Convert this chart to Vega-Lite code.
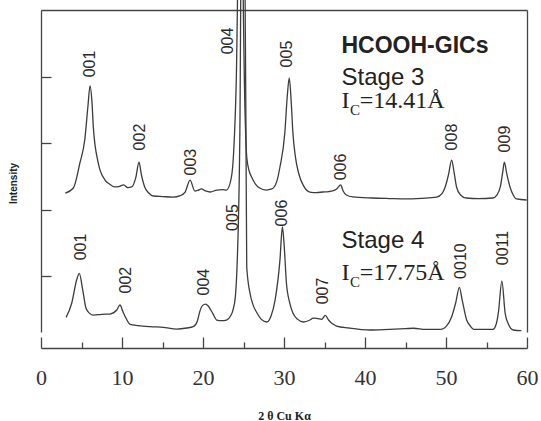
{
  "$schema": "https://vega.github.io/schema/vega-lite/v6.json",
  "width": 486,
  "height": 322,
  "autosize": {"type": "none"},
  "padding": {"left": 41, "top": 10, "right": 14, "bottom": 89},
  "background": "white",
  "config": {"view": {"stroke": null}},
  "datasets": {
    "trace": [
      {"s":"3","t":3.0,"i":112.4},{"s":"3","t":4.0,"i":116.2},{"s":"3","t":4.8,"i":135},{"s":"3","t":5.4,"i":152.3},{"s":"3","t":5.8,"i":178},{"s":"3","t":6.05,"i":192.9},{"s":"3","t":6.3,"i":180},{"s":"3","t":6.46,"i":162},{"s":"3","t":7.07,"i":135},{"s":"3","t":7.9,"i":122.2},{"s":"3","t":8.5,"i":119},{"s":"3","t":9.1,"i":117},{"s":"3","t":9.7,"i":117.5},{"s":"3","t":10.2,"i":118.5},{"s":"3","t":10.7,"i":116.5},{"s":"3","t":11.2,"i":117},{"s":"3","t":11.7,"i":124},{"s":"3","t":12.1,"i":135.7},{"s":"3","t":12.4,"i":126},{"s":"3","t":12.8,"i":117},{"s":"3","t":13.3,"i":112.5},{"s":"3","t":13.9,"i":110.2},{"s":"3","t":15.0,"i":109.8},{"s":"3","t":16.3,"i":109.4},{"s":"3","t":17.2,"i":110.5},{"s":"3","t":17.8,"i":113.2},{"s":"3","t":18.4,"i":122.2},{"s":"3","t":19.0,"i":113.9},{"s":"3","t":19.4,"i":114.5},{"s":"3","t":19.8,"i":115.5},{"s":"3","t":20.3,"i":114},{"s":"3","t":20.9,"i":113.2},{"s":"3","t":21.7,"i":114.7},{"s":"3","t":22.4,"i":115},{"s":"3","t":22.9,"i":114.7},{"s":"3","t":23.5,"i":124},{"s":"3","t":23.8,"i":145},{"s":"3","t":24.1,"i":195},{"s":"3","t":24.6,"i":380},{"s":"3","t":25.2,"i":170},{"s":"3","t":25.4,"i":139.5},{"s":"3","t":25.7,"i":129},{"s":"3","t":26.0,"i":124.5},{"s":"3","t":26.5,"i":119},{"s":"3","t":27.0,"i":116.2},{"s":"3","t":27.8,"i":114.7},{"s":"3","t":28.5,"i":115.5},{"s":"3","t":29.1,"i":121},{"s":"3","t":29.5,"i":132},{"s":"3","t":30.1,"i":157.5},{"s":"3","t":30.4,"i":185},{"s":"3","t":30.65,"i":198.9},{"s":"3","t":30.9,"i":180},{"s":"3","t":31.1,"i":157.5},{"s":"3","t":31.4,"i":140},{"s":"3","t":31.8,"i":127.5},{"s":"3","t":32.4,"i":118},{"s":"3","t":33.2,"i":113.2},{"s":"3","t":34.0,"i":112.8},{"s":"3","t":34.8,"i":113.2},{"s":"3","t":35.5,"i":113.5},{"s":"3","t":36.0,"i":114},{"s":"3","t":36.5,"i":115.5},{"s":"3","t":37.0,"i":118.5},{"s":"3","t":37.3,"i":114},{"s":"3","t":37.7,"i":111},{"s":"3","t":38.5,"i":109.5},{"s":"3","t":40.9,"i":108.7},{"s":"3","t":43.0,"i":108.3},{"s":"3","t":45.0,"i":108},{"s":"3","t":47.0,"i":108.5},{"s":"3","t":48.85,"i":109.4},{"s":"3","t":49.5,"i":112},{"s":"3","t":49.9,"i":117},{"s":"3","t":50.3,"i":126},{"s":"3","t":50.7,"i":137.2},{"s":"3","t":51.0,"i":128},{"s":"3","t":51.3,"i":117},{"s":"3","t":51.8,"i":111},{"s":"3","t":52.5,"i":108.7},{"s":"3","t":54.0,"i":108.3},{"s":"3","t":55.8,"i":108.7},{"s":"3","t":56.3,"i":111},{"s":"3","t":56.7,"i":117},{"s":"3","t":57.0,"i":128},{"s":"3","t":57.2,"i":135.7},{"s":"3","t":57.5,"i":127},{"s":"3","t":57.9,"i":117},{"s":"3","t":58.3,"i":111},{"s":"3","t":58.7,"i":108},{"s":"3","t":59.96,"i":107.2},
      {"s":"4","t":3.1,"i":19},{"s":"4","t":3.8,"i":29.8},{"s":"4","t":4.4,"i":47.1},{"s":"4","t":4.73,"i":52.1},{"s":"4","t":5.15,"i":39.6},{"s":"4","t":5.56,"i":25.8},{"s":"4","t":6.0,"i":22},{"s":"4","t":6.46,"i":20.7},{"s":"4","t":7.5,"i":21.3},{"s":"4","t":8.5,"i":21.5},{"s":"4","t":9.35,"i":24.5},{"s":"4","t":9.75,"i":28.3},{"s":"4","t":10.1,"i":23.5},{"s":"4","t":10.4,"i":19.5},{"s":"4","t":11.0,"i":13.8},{"s":"4","t":12.0,"i":12.8},{"s":"4","t":13.5,"i":12},{"s":"4","t":15.1,"i":11.5},{"s":"4","t":16.75,"i":10.2},{"s":"4","t":18.0,"i":11},{"s":"4","t":18.8,"i":12},{"s":"4","t":19.3,"i":16},{"s":"4","t":19.6,"i":23.3},{"s":"4","t":19.96,"i":28},{"s":"4","t":20.3,"i":29},{"s":"4","t":20.65,"i":27.5},{"s":"4","t":21.2,"i":22},{"s":"4","t":21.7,"i":17},{"s":"4","t":22.3,"i":16.5},{"s":"4","t":22.9,"i":17},{"s":"4","t":23.4,"i":20},{"s":"4","t":23.7,"i":24.5},{"s":"4","t":24.0,"i":35},{"s":"4","t":24.2,"i":56.8},{"s":"4","t":24.55,"i":157.5},{"s":"4","t":24.85,"i":420},{"s":"4","t":25.3,"i":165},{"s":"4","t":25.4,"i":56.8},{"s":"4","t":25.8,"i":37.3},{"s":"4","t":26.2,"i":28},{"s":"4","t":26.6,"i":23},{"s":"4","t":27.2,"i":17.5},{"s":"4","t":27.9,"i":15.5},{"s":"4","t":28.4,"i":20},{"s":"4","t":28.9,"i":32},{"s":"4","t":29.5,"i":62},{"s":"4","t":29.8,"i":86.9},{"s":"4","t":30.0,"i":75},{"s":"4","t":30.3,"i":44.8},{"s":"4","t":30.7,"i":30},{"s":"4","t":31.1,"i":22.2},{"s":"4","t":31.7,"i":17.5},{"s":"4","t":32.4,"i":15.5},{"s":"4","t":33.2,"i":17},{"s":"4","t":33.6,"i":18.5},{"s":"4","t":34.2,"i":18},{"s":"4","t":34.65,"i":17.5},{"s":"4","t":35.1,"i":20.5},{"s":"4","t":35.5,"i":17},{"s":"4","t":35.9,"i":14.5},{"s":"4","t":36.5,"i":12.5},{"s":"4","t":38.0,"i":11},{"s":"4","t":40.6,"i":9.5},{"s":"4","t":43.0,"i":10},{"s":"4","t":45.0,"i":10.5},{"s":"4","t":46.0,"i":10.8},{"s":"4","t":47.5,"i":10},{"s":"4","t":49.4,"i":10},{"s":"4","t":50.0,"i":12},{"s":"4","t":50.7,"i":19.5},{"s":"4","t":51.2,"i":30},{"s":"4","t":51.65,"i":41.6},{"s":"4","t":52.0,"i":32},{"s":"4","t":52.55,"i":17},{"s":"4","t":53.0,"i":12.5},{"s":"4","t":53.4,"i":10},{"s":"4","t":55.8,"i":10},{"s":"4","t":56.2,"i":14},{"s":"4","t":56.46,"i":22.2},{"s":"4","t":56.9,"i":46.3},{"s":"4","t":57.3,"i":22.2},{"s":"4","t":57.7,"i":14},{"s":"4","t":58.3,"i":9.5},{"s":"4","t":59.3,"i":9}
    ],
    "peaks": [
      {"t":6.05,"i":209.4,"label":"001"},{"t":12.2,"i":154.5,"label":"002"},{"t":18.5,"i":135.7,"label":"003"},{"t":23.1,"i":226.7,"label":"004"},{"t":30.4,"i":216.9,"label":"005"},{"t":37.0,"i":132,"label":"006"},{"t":50.8,"i":154.5,"label":"008"},{"t":57.3,"i":153,"label":"009"},
      {"t":4.9,"i":71.9,"label":"001"},{"t":10.5,"i":47,"label":"002"},{"t":20.1,"i":45.5,"label":"004"},{"t":23.7,"i":94,"label":"005"},{"t":29.7,"i":97.4,"label":"006"},{"t":34.85,"i":38.8,"label":"007"},{"t":51.9,"i":61.3,"label":"0010"},{"t":57.0,"i":71.1,"label":"0011"}
    ],
    "notes": [
      {"role":"title","t":37.1,"i":217.7,"txt":"HCOOH-GICs"},
      {"role":"stage","t":37.1,"i":193.6,"txt":"Stage 3"},
      {"role":"stage","t":37.1,"i":71.1,"txt":"Stage 4"},
      {"role":"I","t":37.1,"i":176.3,"txt":"I"},
      {"role":"I","t":37.1,"i":47.1,"txt":"I"},
      {"role":"sub","t":38.15,"i":171.0,"txt":"C"},
      {"role":"sub","t":38.15,"i":41.8,"txt":"C"},
      {"role":"eq","t":39.35,"i":176.3,"txt":"=14.41Å"},
      {"role":"eq","t":39.35,"i":47.1,"txt":"=17.75Å"}
    ]
  },
  "layer": [
    {
      "data": {"name": "trace"},
      "mark": {"type": "line", "stroke": "#3c3c3c", "strokeWidth": 1.3, "interpolate": "monotone"},
      "encoding": {
        "x": {
          "field": "t", "type": "quantitative",
          "scale": {"domain": [0, 60], "nice": false, "zero": false},
          "axis": {
            "orient": "bottom", "offset": 16, "grid": false,
            "values": [0, 5, 10, 15, 20, 25, 30, 35, 40, 45, 50, 55, 60],
            "labelExpr": "datum.value % 10 === 0 ? datum.label : ''",
            "tickSize": {"condition": {"test": "datum.value % 10 === 0", "value": -11}, "value": -6},
            "tickColor": "#444", "tickWidth": 1.3,
            "domainColor": "#444", "domainWidth": 1.3,
            "labelFont": "Liberation Serif", "labelFontSize": 22, "labelColor": "#333",
            "labelPadding": 30, "labelFlush": false, "labelOverlap": false,
            "title": "2 θ Cu Kα", "titleFont": "Liberation Serif", "titleFontSize": 12,
            "titleFontWeight": "bold", "titleColor": "#222", "titlePadding": 17
          }
        },
        "y": {
          "field": "i", "type": "quantitative",
          "scale": {"domain": [8, 250], "nice": false, "zero": false},
          "axis": {
            "orient": "left", "grid": false, "values": [50, 100, 150, 200],
            "tickSize": -10, "labels": false,
            "tickColor": "#444", "tickWidth": 1.3,
            "domainColor": "#444", "domainWidth": 1.3,
            "title": "Intensity", "titleFont": "Liberation Sans", "titleFontSize": 10,
            "titleFontWeight": "bold", "titleColor": "#222",
            "titleAngle": 270, "titleAlign": "center", "titleBaseline": "middle",
            "titleX": -28, "titleY": 173
          }
        },
        "detail": {"field": "s"}
      }
    },
    {
      "data": {"values": [{"t": 0, "i": 8}]},
      "mark": {"type": "point", "opacity": 0},
      "encoding": {
        "x": {"field": "t", "type": "quantitative",
          "axis": {"orient": "top", "ticks": false, "labels": false, "grid": false, "title": null, "domainColor": "#444", "domainWidth": 1.3}},
        "y": {"field": "i", "type": "quantitative",
          "axis": {"orient": "right", "ticks": false, "labels": false, "grid": false, "title": null, "domainColor": "#444", "domainWidth": 1.3}}
      }
    },
    {
      "data": {"name": "peaks"},
      "mark": {"type": "text", "angle": 270, "font": "Liberation Sans", "fontSize": 16, "color": "#2a2a2a", "align": "center", "baseline": "middle"},
      "encoding": {
        "x": {"field": "t", "type": "quantitative", "axis": null},
        "y": {"field": "i", "type": "quantitative", "axis": null},
        "text": {"field": "label"}
      }
    },
    {
      "data": {"name": "notes"},
      "transform": [{"filter": "datum.role === 'title'"}],
      "mark": {"type": "text", "font": "Liberation Sans", "fontSize": 23, "fontWeight": "bold", "color": "#222", "align": "left", "baseline": "alphabetic"},
      "encoding": {
        "x": {"field": "t", "type": "quantitative", "axis": null},
        "y": {"field": "i", "type": "quantitative", "axis": null},
        "text": {"field": "txt"}
      }
    },
    {
      "data": {"name": "notes"},
      "transform": [{"filter": "datum.role === 'stage'"}],
      "mark": {"type": "text", "font": "Liberation Sans", "fontSize": 24, "color": "#222", "align": "left", "baseline": "alphabetic"},
      "encoding": {
        "x": {"field": "t", "type": "quantitative", "axis": null},
        "y": {"field": "i", "type": "quantitative", "axis": null},
        "text": {"field": "txt"}
      }
    },
    {
      "data": {"name": "notes"},
      "transform": [{"filter": "datum.role === 'I' || datum.role === 'eq'"}],
      "mark": {"type": "text", "font": "Liberation Serif", "fontSize": 24, "color": "#222", "align": "left", "baseline": "alphabetic"},
      "encoding": {
        "x": {"field": "t", "type": "quantitative", "axis": null},
        "y": {"field": "i", "type": "quantitative", "axis": null},
        "text": {"field": "txt"}
      }
    },
    {
      "data": {"name": "notes"},
      "transform": [{"filter": "datum.role === 'sub'"}],
      "mark": {"type": "text", "font": "Liberation Serif", "fontSize": 15, "color": "#222", "align": "left", "baseline": "alphabetic"},
      "encoding": {
        "x": {"field": "t", "type": "quantitative", "axis": null},
        "y": {"field": "i", "type": "quantitative", "axis": null},
        "text": {"field": "txt"}
      }
    }
  ],
  "resolve": {"axis": {"x": "independent", "y": "independent"}}
}
